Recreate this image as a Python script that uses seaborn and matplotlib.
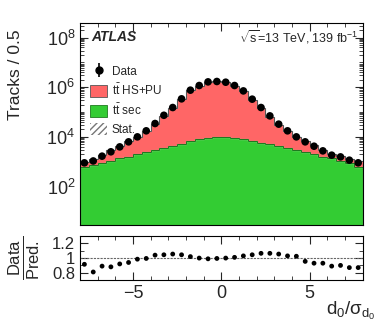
import matplotlib
matplotlib.use("Agg")
import matplotlib.pyplot as plt
import matplotlib.ticker as mticker
from matplotlib.patches import Patch
from matplotlib.lines import Line2D
import seaborn as sns
import numpy as np
import pandas as pd

# bins of d0/sigma(d0), width 0.5
edges = np.arange(-8, 8.01, 0.5)
centers = edges[:-1] + 0.25

# data counts
data = [900, 1070, 1670, 2500, 3950, 6300, 10000, 17500, 34500, 74000, 152000,
        340000, 760000, 1170000, 1640000, 1700000, 1590000, 1170000, 710000,
        330000, 152000, 70000, 32500, 17500, 10000, 6300, 4200, 2730, 1830,
        1560, 1150, 900]
# data / prediction
ratio = [0.915, 0.81, 0.89, 0.88, 0.92, 0.94, 0.985, 0.995, 1.04, 1.045, 1.055,
         1.045, 1.02, 1.0, 0.99, 0.995, 1.0, 1.01, 1.03, 1.045, 1.065, 1.065,
         1.055, 1.03, 1.025, 0.955, 0.93, 0.93, 0.89, 0.90, 0.87, 0.87]
# ttbar secondary tracks
sec = [630, 740, 910, 1070, 1370, 1580, 1990, 2380, 2940, 3630, 4370, 5250,
       6550, 7900, 8600, 9500, 9500, 8600, 7900, 6700, 5750, 4970, 4250, 3420,
       2940, 2380, 1990, 1580, 1370, 1070, 860, 630]

total = np.array(data) / np.array(ratio)
hspu = total - np.array(sec)

df = pd.DataFrame({
    "x": np.concatenate([centers, centers]),
    "w": np.concatenate([hspu, sec]),
    "sample": ["HS+PU"] * len(centers) + ["sec"] * len(centers),
})

sns.set_theme(style="ticks")
plt.rcParams["font.family"] = ["Liberation Sans", "DejaVu Sans"]
plt.rcParams["mathtext.fontset"] = "custom"
plt.rcParams["mathtext.rm"] = "Liberation Sans"
plt.rcParams["mathtext.it"] = "Liberation Sans:italic"
plt.rcParams["mathtext.bf"] = "Liberation Sans:bold"

red = "#ff6666"
green = "#33cc33"

fig = plt.figure(figsize=(3.82, 3.23), dpi=100)
ax = fig.add_axes([0.2094, 0.302, 0.7398, 0.628])
rax = fig.add_axes([0.2094, 0.133, 0.7398, 0.136])

sns.histplot(data=df, x="x", weights="w", hue="sample", hue_order=["HS+PU", "sec"],
             bins=edges.tolist(), multiple="stack", element="step", fill=True,
             palette={"HS+PU": red, "sec": green}, alpha=1, linewidth=0.8,
             legend=False, ax=ax)
# outlines
ax.stairs(total, edges, color="#555555", linewidth=0.8)
ax.stairs(sec, edges, color="#1f7a1f", linewidth=0.8)

sns.scatterplot(x=centers, y=data, color="black", s=30, edgecolor="none",
                zorder=5, ax=ax)

ax.set_yscale("log")
ax.set_ylim(2.7, 4e8)
ax.set_xlim(-8, 8)
ax.yaxis.set_major_locator(mticker.FixedLocator([1e2, 1e4, 1e6, 1e8]))
ax.yaxis.set_major_formatter(mticker.LogFormatterSciNotation())
ax.yaxis.set_minor_locator(mticker.LogLocator(base=10, subs=np.arange(1, 10), numticks=20))
ax.yaxis.set_minor_formatter(mticker.NullFormatter())
ax.xaxis.set_major_locator(mticker.MultipleLocator(5))
ax.xaxis.set_minor_locator(mticker.MultipleLocator(1))
ax.set_xticklabels([])
ax.set_xlabel("")
ax.set_ylabel("Tracks / 0.5", fontsize=12.5, loc="top")
ax.yaxis.set_label_coords(-0.2, 0.965)

for a in (ax, rax):
    a.tick_params(which="both", direction="in", top=True, right=True, labelsize=13)
    a.tick_params(which="major", length=6, width=0.8)
    a.tick_params(which="minor", length=3, width=0.6)
    for s in a.spines.values():
        s.set_linewidth(0.8)
        s.set_color("black")
rax.tick_params(axis="y", labelsize=12)

ax.text(0.04, 0.93, "ATLAS", transform=ax.transAxes, fontsize=10,
        fontweight="bold", style="italic", va="center", ha="left")
ax.text(0.985, 0.93, r"$\sqrt{\mathrm{s}}$=13 TeV, 139 fb$^{-1}$", transform=ax.transAxes,
        fontsize=9, va="center", ha="right")

data_handle = (Line2D([0], [0], marker="|", color="black", linestyle="none",
                      markersize=10, markeredgewidth=1.2),
               Line2D([0], [0], marker="o", color="black", linestyle="none", markersize=5))
handles = [
    data_handle,
    Patch(facecolor=red, edgecolor="#555555", linewidth=0.6),
    Patch(facecolor=green, edgecolor="#1f7a1f", linewidth=0.6),
    Patch(facecolor="none", edgecolor="#777777", hatch="/////", linewidth=0),
]
labels = ["Data", r"$\mathrm{t\bar{t}}$ HS+PU", r"$\mathrm{t\bar{t}}$ sec", "Stat."]
ax.legend(handles, labels, loc="upper left", bbox_to_anchor=(0.02, 0.815),
          frameon=False, fontsize=8.5, handlelength=1.4, handleheight=1.2,
          handletextpad=0.4, labelspacing=0.4, borderaxespad=0)

# ratio panel
sns.scatterplot(x=centers, y=ratio, color="black", s=12, edgecolor="none",
                zorder=5, ax=rax)
rax.axhline(1.0, color="#666666", linestyle="--", linewidth=0.8, dashes=(2, 1))
rax.set_xlim(-8, 8)
rax.set_ylim(0.7, 1.3)
rax.yaxis.set_major_locator(mticker.FixedLocator([0.8, 1.0, 1.2]))
rax.yaxis.set_major_formatter(mticker.FixedFormatter(["0.8", "1", "1.2"]))
rax.yaxis.set_minor_locator(mticker.MultipleLocator(0.1))
rax.xaxis.set_major_locator(mticker.MultipleLocator(5))
rax.xaxis.set_minor_locator(mticker.MultipleLocator(1))
rax.xaxis.set_major_formatter(mticker.FuncFormatter(lambda v, p: f"{v:.0f}".replace("-", "\u2212")))
rax.set_ylabel(r"$\frac{\mathrm{Data}}{\mathrm{Pred.}}$", fontsize=17)
rax.yaxis.set_label_coords(-0.134, 0.5)
rax.set_xlabel(r"$\mathrm{d_0/\sigma_{d_0}}$", fontsize=13.5, loc="right")
rax.xaxis.set_label_coords(1.045, -0.45)

fig.savefig("out.png", dpi=100)
